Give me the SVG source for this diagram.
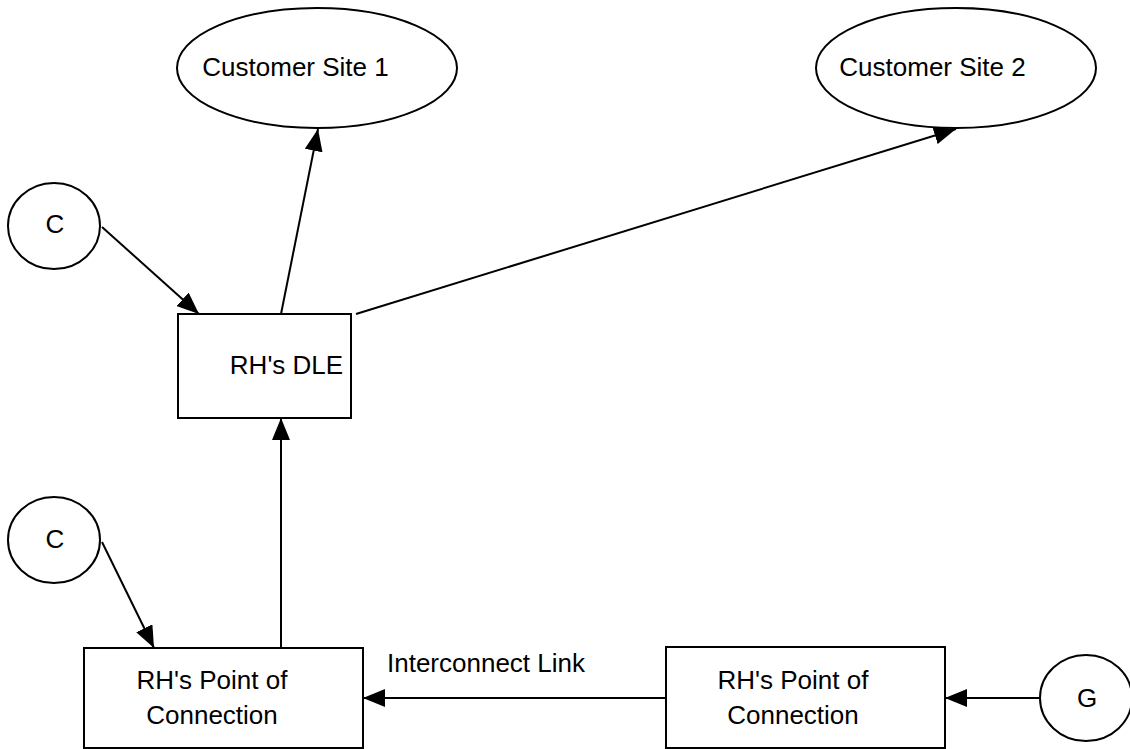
<svg xmlns="http://www.w3.org/2000/svg" width="1130" height="749" viewBox="0 0 1130 749">
<style>
.shape{fill:#fff;stroke:#000;stroke-width:2}
.lbl{font-family:"Liberation Sans",Arial,sans-serif;font-size:26px;fill:#000;text-anchor:middle}
.edge{fill:none;stroke:#000;stroke-width:2;marker-end:url(#arr)}
</style>
<defs>
<marker id="arr" markerUnits="userSpaceOnUse" markerWidth="22" markerHeight="18" refX="22" refY="9" orient="auto" viewBox="0 0 22 18">
<path d="M0,0 L22,9 L0,18 z" fill="#000"/>
</marker>
</defs>
<rect width="1130" height="749" fill="#fff"/>
<g id="cs1"><ellipse class="shape" cx="317" cy="68" rx="140" ry="60"/><text class="lbl" x="295.5" y="76">Customer Site 1</text></g>
<g id="cs2"><ellipse class="shape" cx="956" cy="68" rx="140" ry="60"/><text class="lbl" x="932.5" y="76">Customer Site 2</text></g>
<g id="c1"><ellipse class="shape" cx="54" cy="226" rx="46" ry="43"/><text class="lbl" x="55" y="233">C</text></g>
<g id="dle"><rect class="shape" x="178" y="314" width="173" height="104"/><text class="lbl" x="286.5" y="374">RH's DLE</text></g>
<g id="c2"><ellipse class="shape" cx="54" cy="540" rx="46" ry="43"/><text class="lbl" x="55" y="548">C</text></g>
<g id="poc1"><rect class="shape" x="84" y="648" width="279" height="100"/><text class="lbl" x="212" y="689">RH's Point of</text><text class="lbl" x="212" y="724">Connection</text></g>
<g id="poc2"><rect class="shape" x="666" y="647" width="279" height="101"/><text class="lbl" x="793" y="689">RH's Point of</text><text class="lbl" x="793" y="724">Connection</text></g>
<g id="g"><ellipse class="shape" cx="1086" cy="698" rx="46" ry="43"/><text class="lbl" x="1087" y="707">G</text></g>
<g id="connectors">
<line class="edge" x1="102" y1="227" x2="199" y2="314"/>
<line class="edge" x1="281" y1="314" x2="318" y2="129"/>
<line class="edge" x1="356" y1="314" x2="956" y2="129"/>
<line class="edge" x1="102" y1="542" x2="154" y2="648"/>
<line class="edge" x1="281" y1="648" x2="281" y2="418"/>
<line class="edge" x1="666" y1="698" x2="363" y2="698"/>
<line class="edge" x1="1040" y1="698" x2="945" y2="698"/>
<text class="lbl" x="387" y="672" style="text-anchor:start">Interconnect Link</text>
</g>
</svg>
